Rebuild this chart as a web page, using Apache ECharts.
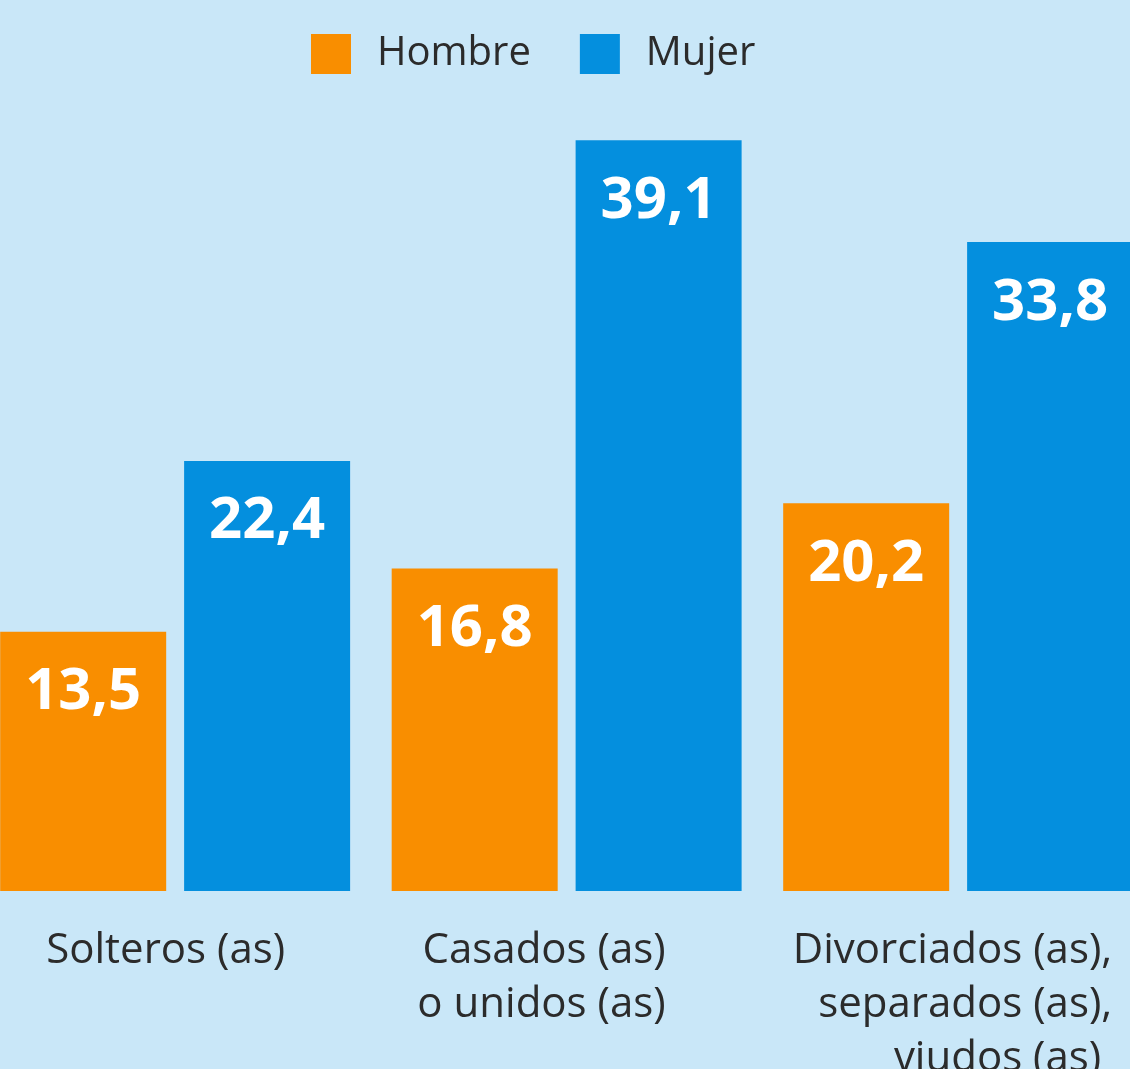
<!DOCTYPE html>
<html>
<head>
<meta charset="utf-8">
<script src="https://cdn.jsdelivr.net/npm/echarts@6/dist/echarts.min.js"></script>
<style>
  html, body { margin: 0; padding: 0; background: #C9E7F8; }
  #chart { width: 1130px; height: 1069px; }
</style>
</head>
<body>
<div id="chart"></div>
<script>
var categories = ['Solteros (as)', 'Casados (as)\no unidos (as)', 'Divorciados (as),\nseparados (as),\nviudos (as) ']
var hombre = [13.5, 16.8, 20.2]
var mujer = [22.4, 39.1, 33.8]
var legendNames = ['Hombre', 'Mujer']

// how far right of the tick each label's right edge sits
var labelShift = [110, 99, 154]

var xdata = []
for (var i = 0; i < categories.length; i++) {
  xdata.push({
    value: categories[i],
    textStyle: { align: 'right', padding: [0, -labelShift[i], 0, 0] }
  })
}

function fmt(p) {
  return p.value.toFixed(1).replace('.', ',')
}

var barLabel = {
  show: true,
  position: 'insideTop',
  distance: 32,
  formatter: fmt,
  color: '#ffffff',
  fontFamily: 'Open Sans',
  fontWeight: 'bold',
  fontSize: 58,
  lineHeight: 58
}

var chart = echarts.init(document.getElementById('chart'))
chart.setOption({
  backgroundColor: '#C9E7F8',
  animation: false,
  textStyle: { fontFamily: 'Open Sans' },
  legend: {
    data: legendNames,
    left: 311,
    top: 34,
    padding: 0,
    itemWidth: 40,
    itemHeight: 40,
    itemGap: 49,
    icon: 'rect',
    textStyle: {
      fontFamily: 'Open Sans',
      fontSize: 40,
      color: '#2b2b2b',
      padding: [0, 0, 0, 21]
    }
  },
  grid: {
    left: -20.6,
    width: 1174.5,
    top: 123,
    bottom: 178,
    outerBoundsMode: 'none',
    containLabel: false
  },
  xAxis: {
    type: 'category',
    data: xdata,
    axisLine: { show: false },
    axisTick: { show: false },
    axisLabel: {
      interval: 0,
      margin: 33,
      fontFamily: 'Open Sans',
      fontSize: 42,
      lineHeight: 54,
      color: '#2b2b2b'
    }
  },
  yAxis: {
    type: 'value',
    min: 0,
    max: 40,
    show: false,
    splitLine: { show: false }
  },
  series: [
    {
      name: 'Hombre',
      type: 'bar',
      data: hombre,
      barWidth: 166,
      barGap: '10.8%',
      itemStyle: { color: '#F98E00' },
      label: barLabel
    },
    {
      name: 'Mujer',
      type: 'bar',
      data: mujer,
      barWidth: 166,
      barGap: '10.8%',
      itemStyle: { color: '#048FDE' },
      label: barLabel
    }
  ]
})
</script>
</body>
</html>
